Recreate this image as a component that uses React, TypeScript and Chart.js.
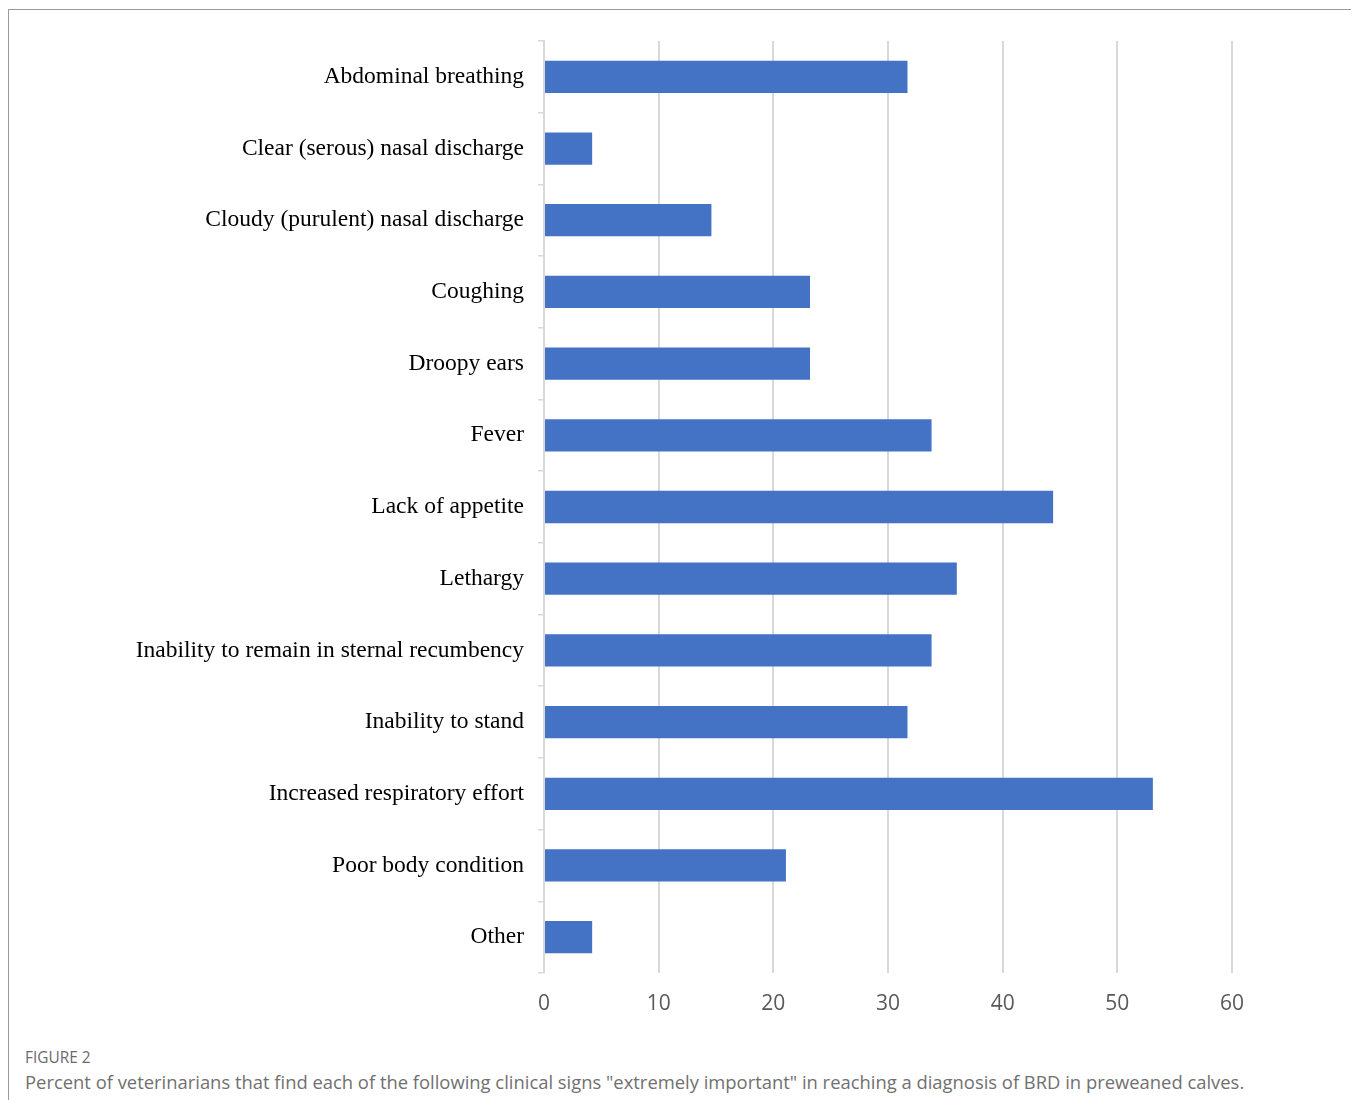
import React, { useEffect, useRef } from "react";
import { Chart, registerables } from "chart.js";

Chart.register(...registerables);

const categories = [
  "Abdominal breathing",
  "Clear (serous) nasal discharge",
  "Cloudy (purulent) nasal discharge",
  "Coughing",
  "Droopy ears",
  "Fever",
  "Lack of appetite",
  "Lethargy",
  "Inability to remain in sternal recumbency",
  "Inability to stand",
  "Increased respiratory effort",
  "Poor body condition",
  "Other",
];

const percentValues = [31.7, 4.2, 14.6, 23.2, 23.2, 33.8, 44.4, 36.0, 33.8, 31.7, 53.1, 21.1, 4.2];

const xTicks = [0, 10, 20, 30, 40, 50, 60];

const figureLabel = "FIGURE 2";
const captionText =
  'Percent of veterinarians that find each of the following clinical signs "extremely important" in reaching a diagnosis of BRD in preweaned calves.';

export default function App() {
  const canvasRef = useRef<HTMLCanvasElement | null>(null);

  useEffect(() => {
    if (!canvasRef.current) return;
    const chart = new Chart(canvasRef.current, {
      type: "bar",
      data: {
        labels: categories,
        datasets: [
          {
            data: percentValues,
            backgroundColor: "#4472C4",
            borderWidth: 0,
            barPercentage: 0.45,
            categoryPercentage: 1,
          },
        ],
      },
      options: {
        indexAxis: "y",
        animation: false,
        responsive: false,
        maintainAspectRatio: false,
        layout: { padding: { top: 30, right: 30, left: 0, bottom: 0 } },
        plugins: { legend: { display: false }, tooltip: { enabled: false } },
        scales: {
          x: {
            type: "linear",
            min: 0,
            max: 60,
            afterBuildTicks: (scale: any) => {
              scale.ticks = xTicks.map((v) => ({ value: v }));
            },
            afterFit: (scale: any) => {
              scale.height = 58;
            },
            grid: {
              color: "#d9d9d9",
              lineWidth: 2,
              drawTicks: false,
            },
            border: { display: false },
            ticks: {
              padding: 18,
              color: "#595959",
              font: { family: "Open Sans", size: 21 },
            },
          },
          y: {
            type: "category",
            offset: true,
            afterFit: (scale: any) => {
              scale.width = 535;
            },
            grid: {
              offset: true,
              drawOnChartArea: false,
              drawTicks: true,
              tickLength: 6,
              color: "#d9d9d9",
              lineWidth: 1.5,
            },
            border: { display: true, color: "#d9d9d9", width: 2 },
            ticks: {
              padding: 14,
              color: "#000000",
              font: { family: "Liberation Serif", size: 23.5 },
            },
          },
        },
      },
    });
    return () => chart.destroy();
  }, []);

  return (
    <div
      style={{
        position: "relative",
        width: 1351,
        height: 1091,
        borderTop: "1px solid #9a9a9a",
        borderLeft: "1px solid #9a9a9a",
        boxSizing: "border-box",
        marginTop: 1,
        background: "#ffffff",
      }}
    >
      <canvas
        ref={canvasRef}
        width={1253}
        height={1020}
        style={{ position: "absolute", left: 0, top: 1, width: 1253, height: 1020 }}
      />
      <div
        style={{
          position: "absolute",
          left: 16,
          top: 1038,
          fontFamily: "Open Sans",
          fontSize: 15.4,
          color: "#6b6b6b",
          lineHeight: "20px",
          whiteSpace: "nowrap",
        }}
      >
        {figureLabel}
      </div>
      <div
        style={{
          position: "absolute",
          left: 16,
          top: 1060,
          fontFamily: "Open Sans",
          fontSize: 18.4,
          color: "#707070",
          lineHeight: "24px",
          whiteSpace: "nowrap",
        }}
      >
        {captionText}
      </div>
    </div>
  );
}
